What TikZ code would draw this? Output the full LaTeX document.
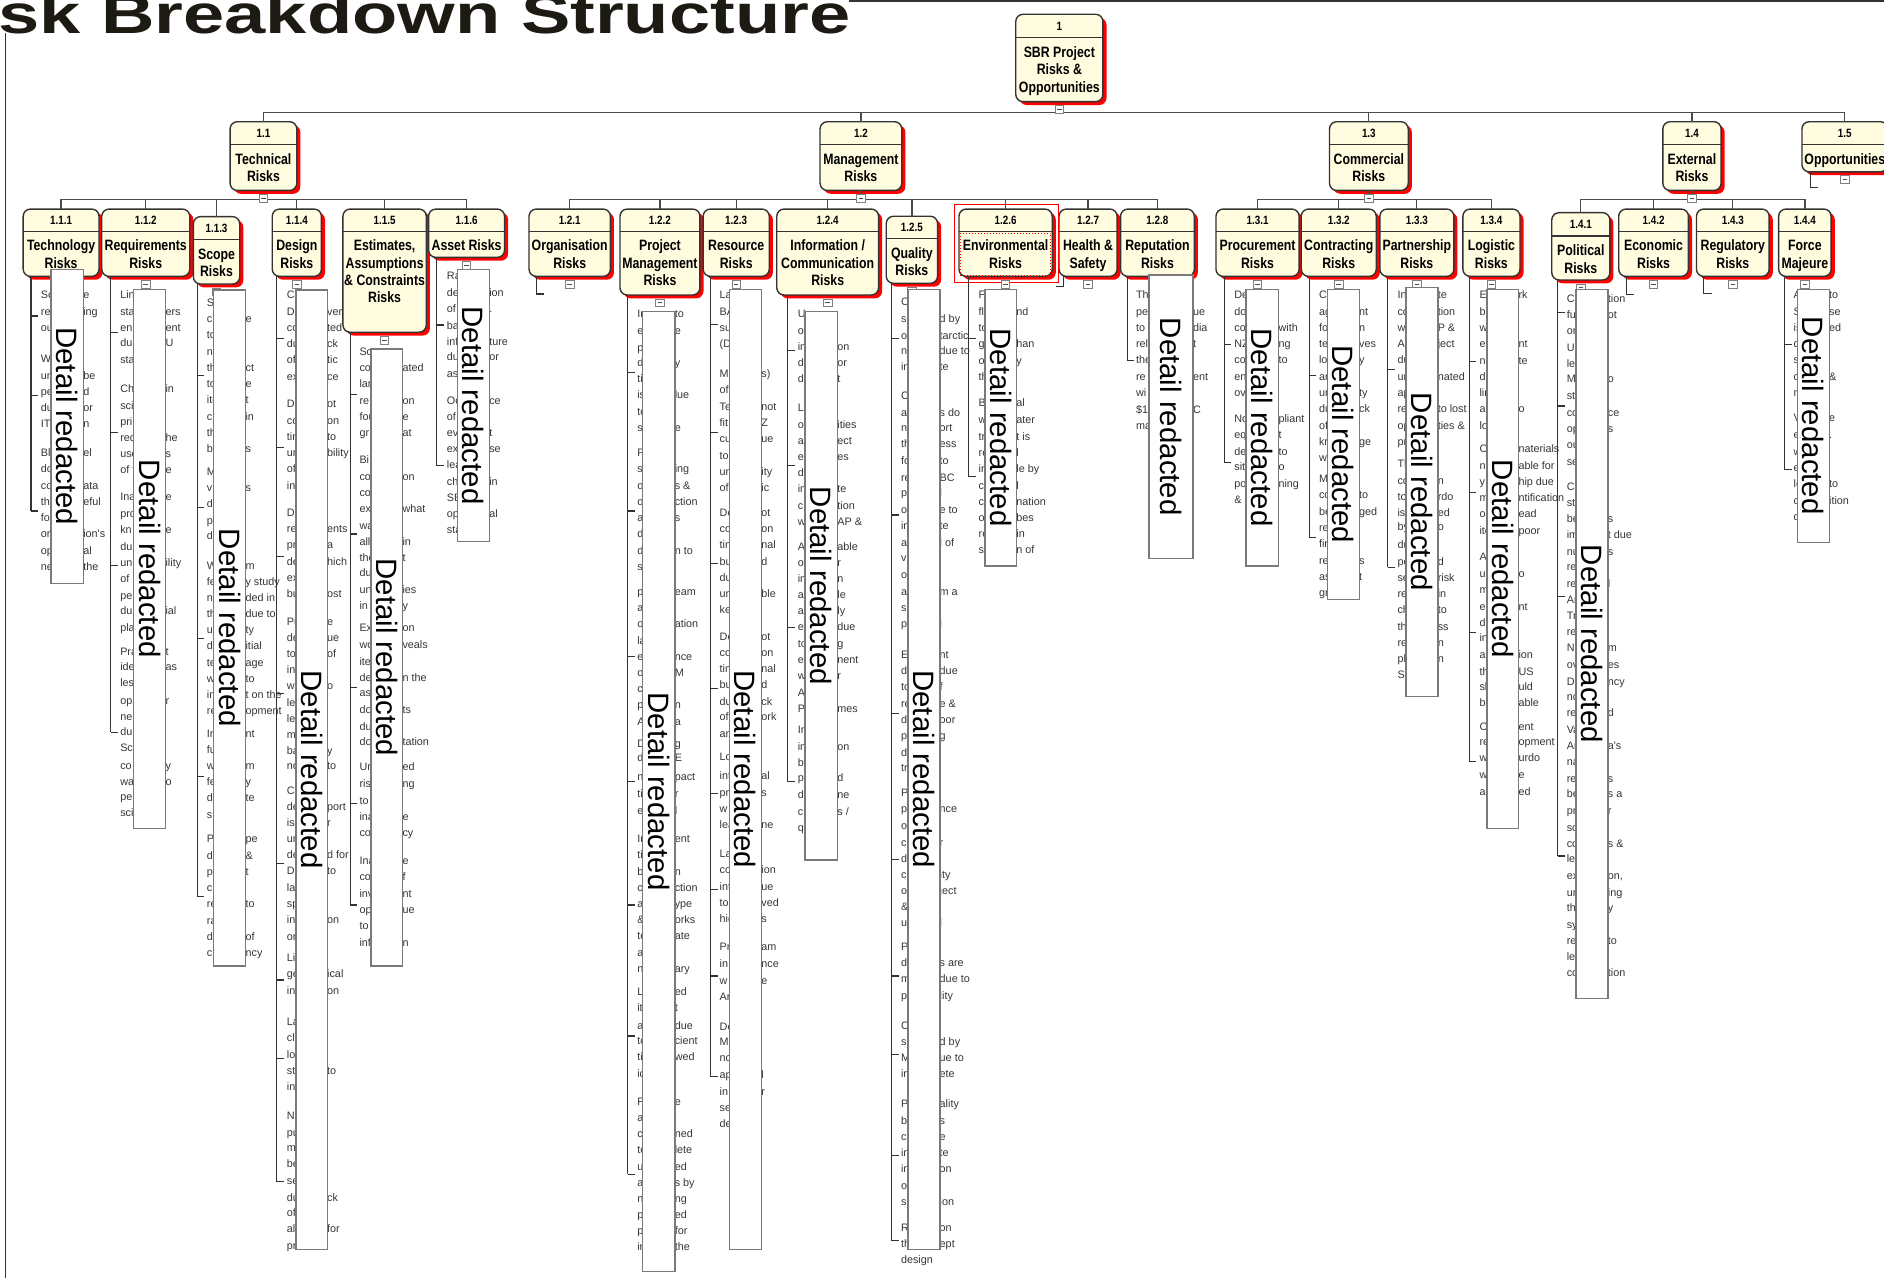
\documentclass[tikz,border=0pt]{standalone}
\usepackage{fontspec}
\usepackage{graphicx}
\setmainfont{Liberation Sans}
\newfontfamily\labelfont[FakeStretch=0.82]{Liberation Sans}
\newfontfamily\plainsans{Liberation Sans}
\usetikzlibrary{shadows}

\definecolor{boxfill}{HTML}{FFFCDF}
\definecolor{boxline}{HTML}{333333}
\definecolor{connline}{HTML}{4A4A4A}
\definecolor{redactline}{HTML}{7A7A7A}
\definecolor{fragtext}{HTML}{363636}
\definecolor{titletext}{HTML}{1C1A12}

% centred label lines; the first line carries the baseline
\newcommand\labellines[1]{\vtop{\baselineskip=14.3pt\lineskiplimit=-20pt\halign{\hfil##\hfil\cr#1\crcr}}}

\tikzset{
  rbs/.style={draw=boxline, line width=1.15pt, fill=boxfill, rounded corners=6pt,
    inner sep=0pt, outer sep=0pt,
    general shadow={fill=red, shadow xshift=3pt, shadow yshift=-2.8pt}},
  sepline/.style={draw=boxline, line width=0.9pt},
  numtext/.style={anchor=base, inner sep=0pt, font=\labelfont\bfseries\fontsize{10}{12}\selectfont},
  labtext/.style={anchor=base, inner sep=0pt, font=\labelfont\bfseries\fontsize{12.5}{14.3}\selectfont},
  conn/.style={draw=connline, line width=1.05pt},
  tree/.style={draw=boxline, line width=0.9pt},
  minusnode/.style={draw=gray, fill=white, line width=0.6pt, minimum width=7pt,
    minimum height=6.5pt, inner sep=0pt, anchor=north,
    path picture={\draw[line width=0.7pt, black!70]
      ([xshift=1.6pt]path picture bounding box.west) --
      ([xshift=-1.6pt]path picture bounding box.east);}},
  redbox/.style={draw=redactline, line width=1.2pt, fill=white, inner sep=0pt},
  redtext/.style={rotate=-90, inner sep=0pt, font=\plainsans\fontsize{24.5}{26}\selectfont},
  frag/.style={anchor=base west, inner sep=0pt, text=fragtext, font=\plainsans\fontsize{9}{10}\selectfont},
}

% box with number header and label: name, left, right, top, separator, bottom, number, label
\newcommand\rbsbox[8]{%
  \node[rbs, minimum width={(#3-#2)*1pt}, minimum height={(#6-#4)*1pt}] (#1)
    at ({(#2+#3)/2},{(#4+#6)/2}) {};
  \draw[sepline] (#2,#5) -- (#3,#5);
  \node[numtext] (#1n) at ({(#2+#3)/2},{(#4+#5)/2+3.6}) {#7};
  \node[labtext] (#1l) at ({(#2+#3)/2},{#5+16.6}) {\labellines{#8}};
}

% tree line under a box: name, parent, x, end y, tick list
\newcommand\coltree[5]{%
  \coordinate (#1x) at (#3,#4);
  \draw[tree] (#2.south -| #1x) -- (#1x);
  \foreach \tk [count=\tn] in {#5} {%
    \coordinate (#1t\tn) at (#3,\tk);
    \draw[tree] (#1t\tn) -- ++(6,0);}
}

% short elbow under a box without details: parent, x, drop, run
\newcommand\stub[4]{%
  \coordinate (#1s) at (#2,0);
  \draw[tree] (#1.south -| #1s) |- ++(#4,#3);
}

% visible line fragments: name, left x, right x, list of y/left/right
\newcommand\fraglines[4]{%
  \foreach \fy/\fa/\fb [count=\fk] in {#4} {%
    \node[frag] (#1l\fk) at (#2,\fy+3) {\fa};
    \node[frag] (#1r\fk) at (#3-0.3,\fy+3) {\fb};}
}

% white cover box: name, left, right, top, bottom
\newcommand\redact[5]{%
  \node[redbox, minimum width={(#3-#2)*1pt}, minimum height={(#5-#4)*1pt}] (#1)
    at ({(#2+#3)/2},{(#4+#5)/2}) {};
  \node[redtext] (#1t) at (#1.center) {Detail redacted};
}

\begin{document}
\begin{tikzpicture}[x=1pt, y=-1pt]
\useasboundingbox (0,0) rectangle (1568,1064);
\clip (0,0) rectangle (1568,1064);
\fill[white] (0,0) rectangle (1568,1064);

% page frame and heading
\draw[line width=1pt, black!80] (707,0.8) -- (1568,0.8);
\draw[line width=1pt, black!80] (4.8,27.7) -- (4.8,1064);
\node[anchor=base west, inner sep=0pt, text=titletext] (title) at (-1.5,27.7)
  {\resizebox{709pt}{\height}{\fontsize{46}{46}\selectfont\bfseries sk Breakdown Structure}};

% level 0 and 1
\rbsbox{root}{845.4}{917.9}{11.9}{31.4}{84.6}{1}{SBR Project\cr Risks \&\cr Opportunities}
\rbsbox{n11}{191.5}{247}{101.3}{120.1}{158.5}{1.1}{Technical\cr Risks}
\rbsbox{n12}{682.5}{750.5}{101.3}{120.1}{158.5}{1.2}{Management\cr Risks}
\rbsbox{n13}{1106.5}{1172}{101.3}{120.1}{158.5}{1.3}{Commercial\cr Risks}
\rbsbox{n14}{1383.9}{1432.4}{101.3}{120.1}{158.5}{1.4}{External\cr Risks}
\rbsbox{n15}{1499.7}{1571}{101.3}{120.1}{143}{1.5}{Opportunities}

% level 2
\rbsbox{n111}{19.3}{82.4}{174}{192.3}{230}{1.1.1}{Technology\cr Risks}
\rbsbox{n112}{84.7}{157.9}{174}{192.3}{230}{1.1.2}{Requirements\cr Risks}
\rbsbox{n113}{160.9}{199.5}{180.3}{199.2}{236.4}{1.1.3}{Scope\cr Risks}
\rbsbox{n114}{226.6}{267.5}{174}{192.3}{230}{1.1.4}{Design\cr Risks}
\rbsbox{n115}{285.4}{354.8}{174}{192.3}{276.5}{1.1.5}{Estimates,\cr Assumptions\cr \& Constraints\cr Risks}
\rbsbox{n116}{356.7}{419.9}{174}{192.3}{214.2}{1.1.6}{Asset Risks}
\rbsbox{n121}{440.3}{508}{174}{192.3}{230}{1.2.1}{Organisation\cr Risks}
\rbsbox{n122}{516}{582.5}{174}{192.3}{245.5}{1.2.2}{Project\cr Management\cr Risks}
\rbsbox{n123}{585.2}{640.2}{174}{192.3}{230}{1.2.3}{Resource\cr Risks}
\rbsbox{n124}{646.5}{731.2}{174}{192.3}{245.5}{1.2.4}{Information /\cr Communication\cr Risks}
\rbsbox{n125}{737.6}{780.3}{180}{198.5}{235.8}{1.2.5}{Quality\cr Risks}
\rbsbox{n126}{798.1}{875.7}{174}{192.3}{230}{1.2.6}{Environmental\cr Risks}
\rbsbox{n127}{881.4}{929.7}{174}{192.3}{230}{1.2.7}{Health \&\cr Safety}
\rbsbox{n128}{932.6}{994}{174}{192.3}{230}{1.2.8}{Reputation\cr Risks}
\rbsbox{n131}{1012}{1081.2}{174}{192.3}{230}{1.3.1}{Procurement\cr Risks}
\rbsbox{n132}{1083}{1145.4}{174}{192.3}{230}{1.3.2}{Contracting\cr Risks}
\rbsbox{n133}{1148.4}{1210}{174}{192.3}{230}{1.3.3}{Partnership\cr Risks}
\rbsbox{n134}{1217.5}{1265}{174}{192.3}{230}{1.3.4}{Logistic\cr Risks}
\rbsbox{n141}{1291.5}{1339.8}{177}{196.4}{233}{1.4.1}{Political\cr Risks}
\rbsbox{n142}{1347.2}{1405.2}{174}{192.3}{230}{1.4.2}{Economic\cr Risks}
\rbsbox{n143}{1411.9}{1472.4}{174}{192.3}{230}{1.4.3}{Regulatory\cr Risks}
\rbsbox{n144}{1480.3}{1524}{174}{192.3}{230}{1.4.4}{Force\cr Majeure}

% selection marks on 1.2.6
\draw[red, line width=0.8pt] ([xshift=-4.1pt,yshift=4pt]n126.north west) rectangle ([xshift=4.9pt,yshift=-5.3pt]n126.south east);
\draw[red, dotted, line width=0.5pt] (799.5,194) rectangle (874.5,229);

% tree connectors
\coordinate (bus0) at (0,93.8);
\coordinate (bus1) at (0,165.9);
\draw[conn] (root.south) -- (root.south |- bus0);
\draw[conn] (n11.north) |- (n15.north |- bus0) -- (n15.north);
\foreach \c in {n12,n13,n14} {\draw[conn] (\c.north) -- (\c.north |- bus0);}
\foreach \c in {n11,n12,n13,n14} {\draw[conn] (\c.south) -- (\c.south |- bus1);}
\draw[conn] (n111.north) |- (n116.north |- bus1) -- (n116.north);
\foreach \c in {n112,n113,n114,n115} {\draw[conn] (\c.north) -- (\c.north |- bus1);}
\draw[conn] (n121.north) |- (n128.north |- bus1) -- (n128.north);
\foreach \c in {n122,n123,n124,n125,n126,n127} {\draw[conn] (\c.north) -- (\c.north |- bus1);}
\draw[conn] (n131.north) |- (n134.north |- bus1) -- (n134.north);
\foreach \c in {n132,n133} {\draw[conn] (\c.north) -- (\c.north |- bus1);}
\draw[conn] (n141.north) |- (n144.north |- bus1) -- (n144.north);
\foreach \c in {n142,n143} {\draw[conn] (\c.north) -- (\c.north |- bus1);}

% collapse markers
\foreach \c in {root,n11,n12,n13,n14,n15,n111,n112,n113,n114,n115,n116,n121,n122,n123,n124,n125,n126,n127,n128,n131,n132,n133,n134,n141,n142,n143,n144}
  {\node[minusnode] (\c-m) at ([yshift=-3pt]\c.south) {};}

% elbows under boxes without details
\stub{n121}{446.6}{14.7}{6.4}
\stub{n127}{885}{8.5}{-6}
\stub{n142}{1353.5}{15.3}{6.5}
\stub{n143}{1418}{14}{6.5}
\stub{n15}{1507}{13}{6}

% detail trees
\coltree{k111}{n111}{25.8}{425.3}{263,328.8,425.3}
\coltree{k112}{n112}{92.1}{609.5}{276.6,360,470.8,609.5}
\coltree{k113}{n113}{164}{746.3}{312.9,422.5,531.2,646.4,746.3}
\coltree{k114}{n114}{230.5}{983.5}{281.6,372.5,463.3,577,718.5,815.6,880.8,983.5}
\coltree{k115}{n115}{291.5}{753.2}{328.7,444.4,572,668.6,753.2}
\coltree{k116}{n116}{363.4}{387.8}{270.5,387.8}
\coltree{k122}{n122}{522.3}{977.3}{310.1,425.3,546.5,650.5,753.2,862.2,977.3}
\coltree{k123}{n123}{591.6}{896.1}{269.9,360.1,468.8,572.8,660.2,740.1,812.3,896.1}
\coltree{k124}{n124}{655.5}{650.5}{291.8,387.8,522.1,650.5}
\coltree{k125}{n125}{742.1}{1032.8}{282.1,428.6,593.7,715.2,812.3,877.5,961.8,1032.8}
\coltree{k126}{n126}{806.4}{396.7}{281.6,396.7}
\coltree{k128}{n128}{938.1}{300.4}{300.4}
\coltree{k131}{n131}{1018.8}{385}{287.1,385}
\coltree{k132}{n132}{1089.6}{447.5}{312.6,447.5}
\coltree{k133}{n133}{1154.9}{472.1}{307.4,472.1}
\coltree{k134}{n134}{1222.8}{633.9}{301,409.7,526.2,633.9}
\coltree{k141}{n141}{1296.5}{712.4}{259.9,337.9,496.6,712.4}
\coltree{k144}{n144}{1485.4}{391.1}{287.1,391.1}

% detail text
\fraglines{c111}{33.9}{69.4}{245.5/So/e, 259.9/re/ing, 273.2/ou/{}, 299/W/{}, 312.6/un/be, 325.9/pe/d, 339.3/du/or, 353.1/IT/n, 377.3/Bl/el, 390.3/do/{}, 404.2/co/ata, 417.5/th/eful, 431.4/fo/{}, 444.4/or/ion's, 458.3/op/al, 471.6/ne/the}
\fraglines{c112}{99.9}{137.9}{245.5/Lin/{}, 259.9/sta/ers, 272.7/en/ent, 285.7/du/U, 299.6/sta/{}, 324/Ch/in, 337.9/sci/{}, 350.9/pri/{}, 364.2/red/he, 377.8/use/s, 391.1/{of t}/e, 413.9/Ina/e, 427.8/pro/{}, 441.1/kn/e, 455/du/{}, 468.3/un/ility, 481.9/of/{}, 495.7/pe/{}, 508.5/du/ial, 522.4/pla/{}, 542.3/Pra/t, 555.4/ide/as, 568.7/les/{}, 583.1/op/r, 596.4/ne/{}, 609.5/du/{}, 622.8/Sc/{}, 637.5/co/y, 650.6/wa/o, 663.6/pe/{}, 676.9/sci/{}}
\fraglines{c113}{172}{204.5}{251.9/S/{}, 265.5/c/e, 278.8/to/{}, 292.6/n/{}, 306.5/th/ct, 319.6/to/e, 332.9/ite/t, 346.7/c/in, 360.1/th/{}, 373.9/b/s, 392.5/M/{}, 405.8/v/s, 419.4/d/{}, 433.3/p/{}, 446/d/{}, 471/W/m, 484.1/fe/{y study}, 497.4/n/{ded in}, 511.3/th/{due to}, 524.3/u/ty, 537.6/d/itial, 551.5/te/age, 565.4/w/to, 578.4/in/{t on the}, 591.7/re/opment, 610.9/In/nt, 624.2/fu/{}, 637.5/w/m, 650.5/fe/y, 664.4/d/te, 678.3/s/{}, 698.5/P/pe, 712.1/d/\&, 725.4/p/t, 738.8/c/{}, 752.6/re/to, 766.5/ra/{}, 780.1/d/of, 793.4/c/ncy}
\fraglines{c114}{238.6}{272.4}{245.5/C/{}, 259.9/De/ver, 272.7/co/ted, 286.3/du/ck, 299.6/of/tic, 313.5/ex/ce, 336.2/De/ot, 350.1/co/on, 363.4/tin/to, 377.3/un/bility, 390.6/of/{}, 404.2/in/{}, 426.6/De/{}, 440.5/re/ents, 453.6/pr/a, 467.4/de/hich, 480.7/ex/{}, 494.6/bu/ost, 517.4/Pu/e, 530.7/de/ue, 544.6/to/of, 557.6/in/{}, 570.9/w/o, 584.8/le/{}, 598.7/le/{}, 611.7/m/{}, 625/ba/y, 637.5/no/to, 658/C/{}, 671.3/de/port, 684.7/is/r, 698.5/ur/{}, 711.6/de/{d for}, 724.9/Di/to, 738.8/la/{}, 752.6/sp/{}, 765.7/int/on, 779.5/or/{}, 797.6/Li/{}, 810.9/ge/ical, 824.8/int/on, 850.8/La/{}, 864.2/cli/{}, 878/lo/{}, 891.3/st/to, 904.9/int/{}, 928.8/N/{}, 942.7/pu/{}, 955.7/m/{}, 969/be/{}, 982.9/se/{}, 996.8/du/ck, 1009.8/of/{}, 1023.1/al/for, 1037/pr/{}}
\fraglines{c115}{299}{335.1}{292.6/Sc/{}, 306.5/co/ated, 319.6/lar/{}, 333.4/re/on, 346.7/fou/e, 360.1/gr/at, 382.8/Bi/{}, 396.7/co/on, 410.6/co/{}, 423.9/ex/what, 437.5/wa/{}, 450.8/all/in, 464.1/the/t, 477.1/du/{}, 491/un/ies, 504.3/in/y, 522.9/Ex/on, 536.8/wo/veals, 550.6/ite/{}, 564/de/{n the}, 577/as/{}, 590.9/do/ts, 604.8/du/{}, 617.2/do/tation, 638/Ur/ed, 652.8/ris/ng, 666.3/to/{}, 679.7/ina/e, 693/co/cy, 716.3/Ina/e, 730.2/co/f, 744/inv/nt, 757.3/op/ue, 770.4/to/{}, 784.5/inf/n}
\fraglines{c116}{371.8}{407.3}{229.7/Ra/{}, 244.1/de/ion, 257.2/of/., 271/ba/{}, 284.3/inf/ture, 297.4/du/or, 311.3/as/{}, 333.5/Oc/ce, 346.8/of/{}, 360.1/ev/t, 373.7/ex/se, 387/lea/{}, 400.9/ch/in, 414/SB/{}, 428.1/op/al, 441.1/sta/{}}
\fraglines{c122}{530.2}{561.7}{261.6/In/to, 275.4/e/e, 289.3/p/{}, 302.4/d/y, 315.4/ti/{}, 328.7/is/lue, 342.6/to/{}, 356.5/s/e, 376.7/P/{}, 390.6/s/ing, 404.2/o/{s \&}, 417.5/o/ction, 431.4/a/s, 444.7/d/{}, 458.3/d/{n to}, 471.6/s/{}, 492.4/p/eam, 506.3/a/{}, 519.6/o/ation, 533.2/la/{}, 546.5/e/nce, 560.4/o/M, 573.7/c/{}, 586.7/p/n, 600.6/A/a, 619.5/D/g, 631.1/d/E, 646.9/n/pact, 660.8/ti/r, 674.7/e/l, 698.5/Ir/ent, 711.6/ti/{}, 725.4/b/n, 738.8/c/ction, 752.6/a/ype, 765.7/\&/orks, 779/to/ate, 792.9/a/{}, 806.7/n/ary, 825.9/L/ed, 839.2/it/t, 853.6/a/due, 866.4/to/cient, 880/ti/wed, 893.8/ic/{}, 916.9/F/e, 930.2/a/{}, 943.8/c/ned, 957.1/to/lete, 971/u/ed, 984.3/a/{s by}, 998.2/n/ng, 1011.2/p/ed, 1024.2/p/for, 1038.1/ir/the}
\fraglines{c123}{598.8}{633.8}{245.5/La/{}, 259.4/BA/{}, 273.2/su/{}, 286.5/{(D}/{}, 311.5/M/{s)}, 324.5/of/{}, 338.4/Te/not, 351.7/fit/Z, 365.6/cu/ue, 379.2/to/{}, 393.1/un/ity, 406.4/of/ic, 426.6/De/ot, 440.5/co/on, 453.6/tin/nal, 467.4/bu/d, 480.7/du/{}, 494.6/un/ble, 507.7/ke/{}, 529.9/De/ot, 543.7/co/on, 557/tin/nal, 570.1/bu/d, 584/du/ck, 597/of/ork, 610.9/an/{}, 629.7/Lo/{}, 645.8/int/al, 659.7/pr/s, 673.6/w/{}, 686.6/lea/ne, 711/La/{}, 724/co/ion, 737.9/int/ue, 751.2/to/ved, 765.1/hig/s, 788.4/Pr/am, 802.3/in/nce, 816.2/w/e, 829.5/Ar/{}, 854.4/De/{}, 867.5/M/{}, 880.8/no/{}, 894.7/ap/l, 908.5/in/r, 921.9/se/{}, 935.5/de/{}}
\fraglines{c124}{663.8}{697}{261.6/U/{}, 275.4/o/{}, 288.5/in/on, 302.4/d/or, 315.7/d/t, 339.8/Lo/{}, 353.7/o/ities, 367/a/ect, 380/e/es, 393.4/d/{}, 407.2/in/te, 420.8/c/tion, 434.1/w/{AP \&}, 454.9/A/able, 468.3/o/r, 481.9/in/n, 495.2/a/le, 508.5/a/ly, 522.1/e/due, 536/to/g, 549.3/e/nent, 562.6/w/r, 576.5/A/{}, 590.3/P/mes, 607.5/In/{}, 621.4/in/on, 635.3/b/{}, 647.8/p/d, 661.6/d/ne, 675.5/c/{s /}, 688.8/q/{}}
\fraglines{c125}{749.7}{782.2}{251/C/{}, 265.5/s/{d by}, 279.3/o/tarctic, 292.1/n/{due to}, 305.7/in/te, 329.3/C/{}, 343.4/a/{s do}, 356.5/n/ort, 369.8/th/ess, 383.6/fo/to, 397.5/re/BC, 410.6/p/l, 424.4/o/{e to}, 437.7/in/te, 451.6/a/{l of}, 464.6/v/{}, 478.5/o/{}, 492.4/a/{m a}, 505.7/s/{}, 519.3/p/l, 545.1/E/nt, 558.2/d/due, 572/to/f, 585.9/re/{e \&}, 599.2/d/oor, 612.5/p/g, 626.4/d/{}, 639.4/tr/{}, 659.7/P/{}, 673.6/p/nce, 687.4/o/{}, 701.3/c/r, 714.6/d/{}, 728.2/c/ity, 741.5/o/ject, 754.6/\&/{}, 768.4/u/l, 788.4/P/{}, 801.2/d/{s are}, 815.1/m/{due to}, 828.9/p/lity, 853.6/C/{}, 867.5/s/{d by}, 880.8/M/{ue to}, 893.8/in/ete, 918.8/P/ality, 932.7/b/s, 946.5/c/e, 959.9/in/te, 973.2/in/on, 986.8/o/{}, 1000.1/s/ion, 1022.3/R/on, 1035.3/th/ept}
\node[frag] (c125end) at (749.7,1051.6) {design};
\fraglines{c126}{814.3}{846}{245.5/F/{}, 259.4/fl/nd, 272.7/to/{}, 286.5/g/han, 300.4/o/y, 313.5/th/{}, 335.6/B/al, 349.5/w/ater, 363.4/tr/{t is}, 376.7/re/l, 390.6/in/{le by}, 404.2/c/l, 417.5/c/nation, 431.4/o/bes, 444.4/re/in, 457.7/s/{n of}}
\fraglines{c128}{945.3}{993}{245.5/Th/{}, 259.9/pe/ue, 272.7/to/dia, 286.5/rel/t, 299.6/the/{}, 313.5/re/ent, 327.3/wi/{}, 340.9/\$1/C, 354.5/ma/{}}
\fraglines{c131}{1027.1}{1064.2}{245.5/De/{}, 259.4/do/{}, 272.7/co/with, 286.5/NZ/ng, 299.6/co/to, 313.5/en/{}, 327.3/ov/{}, 348.7/No/pliant, 362/eq/t, 375.9/de/to, 388.9/sit/o, 402.8/po/ning, 416.1/\&/{}}
\fraglines{c132}{1097.6}{1131.3}{245.5/C/{}, 259.9/ag/nt, 272.7/fo/n, 286.5/te/ves, 299.6/lo/y, 313.5/ar/{}, 327.3/ur/ty, 340.6/du/ck, 354.2/of/{}, 367.6/kr/ge, 381.4/w/{}, 398.6/M/{}, 412/cc/to, 425.8/be/ged, 439.7/re/{}, 452.7/fir/{}, 466.6/re/s, 479.9/as/t, 493.8/gr/{}}
\fraglines{c133}{1162.9}{1196.7}{245.5/In/te, 259.9/co/tion, 272.7/w/{P \&}, 286.5/Al/ject, 299.6/du/{}, 313.5/un/nated, 327.3/ap/{}, 340.6/re/{to lost}, 354.2/op/{ties \&}, 367.6/pr/{}, 386.4/Th/{}, 400.3/co/n, 413.3/to/rdo, 427.2/is/ed, 438.9/by/o, 453.6/du/{}, 467.4/pe/d, 480.7/se/risk, 494.3/re/in, 507.7/ch/to, 521.5/th/ss, 534.8/re/n, 548.7/pl/n, 561.8/Sc/{}}
\fraglines{c134}{1231.2}{1263.9}{245.5/E/rk, 259.9/bl/{}, 273.2/w/{}, 286.5/e/nt, 300.4/n/te, 313.5/d/{}, 327.3/lin/{}, 340.6/a/o, 354.5/lo/{}, 373.7/C/naterials, 387.5/n/{able for}, 401.4/y/{hip due}, 414.2/m/ntification, 427.8/o/ead, 441.6/ite/poor, 463.8/A/{}, 477.7/ur/o, 491/m/{}, 504.9/e/nt, 518.2/d/{}, 531.2/in/{}, 545.1/as/ion, 559/th/US, 572/sl/uld, 585.3/b/able, 604.8/C/ent, 617.8/re/opment, 630.6/w/urdo, 645/w/e, 658.9/a/ed}
\fraglines{c141}{1303.8}{1338.3}{248.8/C/tion, 262.1/fu/ot, 275.4/or/{}, 289.3/U/{}, 303.2/le/{}, 315.7/M/o, 329.5/st/{}, 343.4/co/ce, 357/op/s, 370.3/ou/{}, 384.2/se/{}, 405/Cl/{}, 418.3/st/{}, 431.9/be/s, 445.2/im/{t due}, 459.1/nu/s, 472.1/re/{}, 486/re/l, 499.3/Ar/{}, 512.4/Tr/{}, 526.2/re/{}, 539.6/N/m, 553.4/ov/es, 567.3/De/ncy, 580.4/nc/{}, 593.7/re/d, 607.5/Va/{}, 620.9/Ar/{a's}, 633.9/na/{}, 648.3/re/s, 661.1/be/{s a}, 674.9/pr/r, 688.8/so/{}, 702.4/co/{s \&}, 715.2/le/{}, 729/ex/{on,}, 742.9/un/ing, 755.9/th/y, 769.8/sy/{}, 782.9/re/to, 796.7/le/{}, 810.1/co/tion}
\fraglines{c144}{1492.6}{1522.4}{245.5/A/to, 259.9/S/se, 272.7/is/ed, 286.5/d/{}, 299.6/s/{}, 313.5/c/\&, 327.3/n/{}, 348.1/V/e, 362/e/., 375.9/w/{}, 389.7/e/{}, 402.8/le/to, 416.7/c/ition, 430/d/{}}

% cover boxes
\redact{r111}{42.5}{69.4}{224.2}{485.5}
\redact{r112}{111}{137.9}{240.8}{689.4}
\redact{r113}{177.6}{204.5}{241.3}{803.9}
\redact{r114}{246.4}{272.4}{241.3}{1039.8}
\redact{r115}{308.8}{335.1}{290.3}{804}
\redact{r116}{380.6}{407.3}{224.2}{450.8}
\redact{r122}{534.9}{561.7}{259.4}{1058.4}
\redact{r123}{607.1}{633.8}{240.8}{1039.8}
\redact{r124}{669.9}{697}{259.4}{715.7}
\redact{r125}{755.8}{782.2}{240.8}{1039.8}
\redact{r126}{819.7}{846}{240.8}{471}
\redact{r128}{956.1}{993}{229}{464.7}
\redact{r131}{1036.9}{1064.2}{240.8}{471}
\redact{r132}{1104.8}{1131.3}{240.8}{498.8}
\redact{r133}{1170.2}{1196.7}{239.1}{579.8}
\redact{r134}{1237.4}{1263.9}{240.8}{689.4}
\redact{r141}{1311.8}{1338.3}{240.8}{830.9}
\redact{r144}{1496.2}{1522.4}{240.8}{451.3}
\end{tikzpicture}
\end{document}
